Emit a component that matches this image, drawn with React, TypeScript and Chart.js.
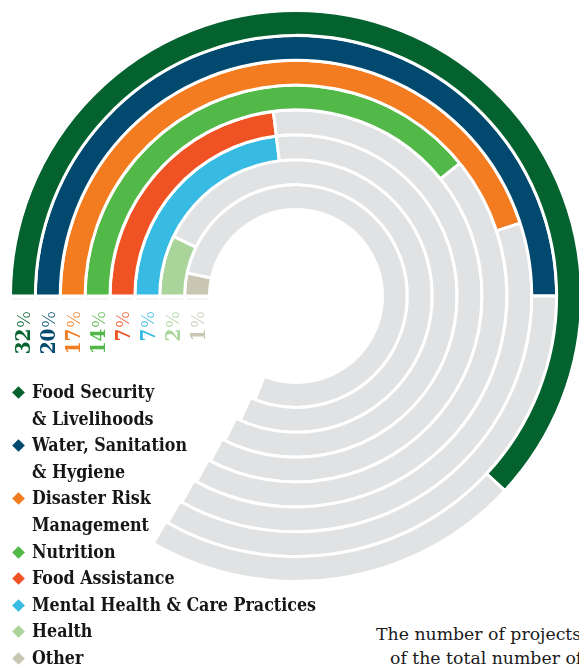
import React, { useEffect, useRef } from "react";
import { Chart, DoughnutController, ArcElement } from "chart.js";

Chart.register(DoughnutController, ArcElement);

// ---- data (outer ring first) ----
const categories = [
  "Food Security & Livelihoods",
  "Water, Sanitation & Hygiene",
  "Disaster Risk Management",
  "Nutrition",
  "Food Assistance",
  "Mental Health & Care Practices",
  "Health",
  "Other",
];
const legendLines = [
  ["Food Security", "& Livelihoods"],
  ["Water, Sanitation", "& Hygiene"],
  ["Disaster Risk", "Management"],
  ["Nutrition"],
  ["Food Assistance"],
  ["Mental Health & Care Practices"],
  ["Health"],
  ["Other"],
];
const percentages = [32, 20, 17, 14, 7, 7, 2, 1];
// sweep of each coloured bar (degrees, clockwise from 9 o'clock) as drawn in the graphic
const arcDegrees = [223, 180, 162, 141, 83, 83, 26, 12];
// sweep of each grey track
const trackDegrees = [300, 299.5, 299, 298.2, 297.4, 296.2, 294.2, 291.6];
const colors = ["#03622d", "#01496f", "#f47c20", "#52b848", "#ef5323", "#37bbe3", "#a9d59b", "#c9c7b3"];
const trackColor = "#e1e2e3";
const captionLines = ["The number of projects", "of the total number of"];

const ringLabels = {
  id: "ringLabels",
  afterDatasetsDraw(chart: any) {
    const ctx = chart.ctx;
    chart.data.datasets.forEach((_ds: any, i: number) => {
      const arc = chart.getDatasetMeta(i).data[0];
      const { x, y, innerRadius, outerRadius } = arc.getProps(["x", "y", "innerRadius", "outerRadius"], true);
      const cx = x - (innerRadius + outerRadius) / 2;
      ctx.save();
      ctx.fillStyle = "#ececec";
      ctx.fillRect(x - outerRadius + 1.5, y + 2.5, outerRadius - innerRadius - 3, 1);
      ctx.translate(cx, y + 15);
      ctx.rotate(-Math.PI / 2);
      ctx.textBaseline = "alphabetic";
      ctx.textAlign = "right";
      ctx.fillStyle = colors[i];
      ctx.font = "200 18px 'DejaVu Sans'";
      ctx.fillText("%", 0, 7);
      const w = ctx.measureText("%").width;
      ctx.font = "bold 20.5px 'DejaVu Serif Condensed', 'DejaVu Serif'";
      ctx.fillText(String(percentages[i]), -w - 0.5, 7.5);
      ctx.restore();
    });
  },
};

export default function App() {
  const ref = useRef<HTMLCanvasElement>(null);
  useEffect(() => {
    if (!ref.current) return;
    const chart = new Chart(ref.current, {
      type: "doughnut",
      data: {
        labels: ["share", "track"],
        datasets: categories.map((c, i) => ({
          label: c,
          data: [arcDegrees[i], trackDegrees[i] - arcDegrees[i]],
          backgroundColor: [colors[i], trackColor],
          borderColor: "#ffffff",
          borderWidth: 3,
          hoverBorderWidth: 3,
          rotation: -90,
          circumference: trackDegrees[i],
        })) as any,
      },
      options: {
        responsive: false,
        animation: false,
        cutout: 86.5,
        events: [],
        layout: { padding: 0 },
        plugins: { legend: { display: false }, tooltip: { enabled: false } },
      } as any,
      plugins: [ringLabels],
    });
    return () => chart.destroy();
  }, []);

  const rows: { text: string; color: string | null }[] = [];
  legendLines.forEach((lines, i) =>
    lines.forEach((t, j) => rows.push({ text: t, color: j === 0 ? colors[i] : null }))
  );

  return (
    <div style={{ position: "absolute", left: 0, top: 0, width: 579, height: 668, overflow: "hidden", background: "#fff" }}>
      <canvas ref={ref} width={574} height={574} style={{ position: "absolute", left: 9, top: 9 }} />
      <div style={{ position: "absolute", left: 0, top: 379 }}>
        {rows.map((r, k) => (
          <div key={k} style={{ position: "relative", height: 26.6, lineHeight: "26.6px", whiteSpace: "nowrap",
            fontFamily: "'DejaVu Serif Condensed', 'DejaVu Serif'", fontWeight: "bold", fontSize: 17.7, color: "#161616", paddingLeft: 32 }}>
            {r.color && (
              <span style={{ position: "absolute", left: 14, top: 9, width: 9, height: 9, background: r.color, transform: "rotate(45deg)" }} />
            )}
            {r.text}
          </div>
        ))}
      </div>
      <div style={{ position: "absolute", left: 376, top: 622, whiteSpace: "nowrap", fontFamily: "'DejaVu Serif'", fontSize: 17.3, lineHeight: "24px", color: "#1a1a1a" }}>
        {captionLines[0]}
      </div>
      <div style={{ position: "absolute", left: 390, top: 646, whiteSpace: "nowrap", fontFamily: "'DejaVu Serif'", fontSize: 17.3, lineHeight: "24px", color: "#1a1a1a" }}>
        {captionLines[1]}
      </div>
    </div>
  );
}
